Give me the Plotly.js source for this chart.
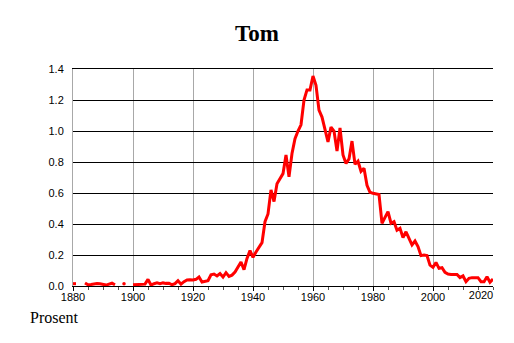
<!DOCTYPE html>
<html>
<head>
<meta charset="utf-8">
<script src="https://cdn.plot.ly/plotly-3.0.1.min.js"></script>
<style>html,body{margin:0;padding:0;background:#fff;}#chart{width:514px;height:343px;}</style>
</head>
<body>
<div id="chart"></div>
<script>
const chartTitle = "Tom";
const yLabel = "Prosent";
const startYear = 1880;
// Share (%) per year, 1880..2020; null = no data
const values = [
  0.015, 0.015, null, null, 0.02, 0.008, 0.01, 0.015, 0.016, 0.015,   // 1880-1889
  0.01, 0.006, 0.012, 0.018, 0.008, null, null, 0.015, null, null,    // 1890-1899
  0.008, 0.01, 0.01, 0.01, 0.012, 0.043, 0.006, 0.015, 0.02, 0.015,    // 1900-1909
  0.02, 0.017, 0.018, 0.008, 0.015, 0.034, 0.012, 0.028, 0.039, 0.04,  // 1910-1919
  0.039, 0.043, 0.058, 0.026, 0.028, 0.034, 0.072, 0.077, 0.065, 0.08, // 1920-1929
  0.058, 0.086, 0.062, 0.07, 0.09, 0.125, 0.155, 0.105, 0.178, 0.228,  // 1930-1939
  0.185, 0.22, 0.255, 0.28, 0.415, 0.465, 0.62, 0.545, 0.66, 0.695,    // 1940-1949
  0.725, 0.845, 0.705, 0.855, 0.95, 1.0, 1.04, 1.2, 1.265, 1.265,      // 1950-1959
  1.355, 1.295, 1.135, 1.09, 1.005, 0.93, 1.025, 1.0, 0.87, 1.02,      // 1960-1969
  0.845, 0.79, 0.82, 0.935, 0.785, 0.805, 0.74, 0.76, 0.65, 0.605,     // 1970-1979
  0.598, 0.595, 0.59, 0.405, 0.447, 0.48, 0.405, 0.415, 0.36, 0.372,   // 1980-1989
  0.312, 0.35, 0.307, 0.265, 0.29, 0.254, 0.196, 0.2, 0.196, 0.135,    // 1990-1999
  0.12, 0.152, 0.114, 0.118, 0.088, 0.077, 0.075, 0.075, 0.075, 0.054, // 2000-2009
  0.065, 0.028, 0.05, 0.054, 0.054, 0.054, 0.028, 0.028, 0.06, 0.024,  // 2010-2019
  0.045                                                                 // 2020
];
const years = values.map((v, i) => startYear + i);
const xTicks = [1880, 1900, 1920, 1940, 1960, 1980, 2000];
const xEndTick = [2020];
const yTicks = [0, 0.2, 0.4, 0.6, 0.8, 1.0, 1.2, 1.4];

// isolated points (no neighbours) get a marker so they remain visible
const isoX = [], isoY = [];
values.forEach((v, i) => {
  if (v !== null && (i === 0 || values[i-1] === null) && (i === values.length-1 || values[i+1] === null)) {
    isoX.push(years[i]); isoY.push(v);
  }
});

const traces = [
  {x: years, y: values, type: 'scatter', mode: 'lines', connectgaps: false,
   line: {color: '#ff0000', width: 3}, hoverinfo: 'skip', showlegend: false},
  {x: isoX, y: isoY, type: 'scatter', mode: 'markers',
   marker: {color: '#ff0000', size: 3.5}, hoverinfo: 'skip', showlegend: false},
  // carrier for the second x axis that labels the last tick (pulled inside the edge)
  {x: xEndTick, y: [null], xaxis: 'x2', type: 'scatter', mode: 'lines', hoverinfo: 'skip', showlegend: false}
];

const tickFont = {family: 'Liberation Sans, Arial, sans-serif', size: 11, color: '#000'};

const layout = {
  width: 514, height: 343,
  margin: {l: 73, r: 21, t: 69, b: 57},
  paper_bgcolor: '#ffffff', plot_bgcolor: '#ffffff',
  title: {text: '<b>' + chartTitle + '</b>', font: {family: 'Liberation Serif, Times New Roman, serif', size: 23, color: '#000'},
          x: 0.5, xref: 'container', xanchor: 'center', y: 0.905, yref: 'container', yanchor: 'middle'},
  xaxis: {range: [1880, 2020], tickvals: xTicks, ticktext: xTicks.map(String),
          showgrid: true, gridcolor: '#a8a8a8', gridwidth: 1,
          showline: true, linecolor: '#000', linewidth: 1, mirror: true,
          ticks: 'outside', ticklen: 4, tickcolor: '#000', ticklabelstandoff: -3,
          minor: {dtick: 5, ticks: 'outside', ticklen: 3, tickcolor: '#555', showgrid: false},
          zeroline: false, fixedrange: true, tickfont: tickFont},
  xaxis2: {range: [1880, 2020], overlaying: 'x', side: 'bottom', anchor: 'y',
           tickvals: xEndTick, ticktext: xEndTick.map(String), ticklabelshift: -12, ticklabelstandoff: 1,
           showgrid: false, showline: false, zeroline: false, ticks: '', fixedrange: true, tickfont: tickFont},
  yaxis: {range: [0, 1.4], tickvals: yTicks, ticktext: yTicks.map(v => v.toFixed(1)),
          showgrid: true, gridcolor: '#000', gridwidth: 1,
          showline: true, linecolor: '#a8a8a8', linewidth: 1,
          zeroline: false, ticks: '', fixedrange: true, ticklabelstandoff: 6, tickfont: tickFont},
  annotations: [
    {text: yLabel, xref: 'paper', yref: 'paper', x: -0.043, y: -0.145, xanchor: 'center', yanchor: 'middle',
     showarrow: false, font: {family: 'Liberation Serif, Times New Roman, serif', size: 16, color: '#000'}}
  ]
};

Plotly.newPlot('chart', traces, layout, {displayModeBar: false, staticPlot: true});
</script>
</body>
</html>
